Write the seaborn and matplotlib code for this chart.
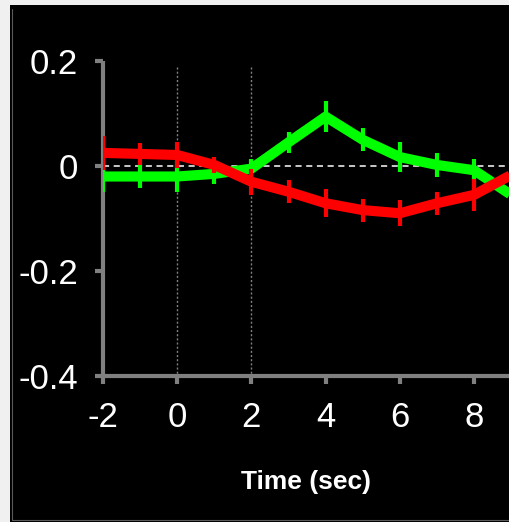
import matplotlib
matplotlib.use("Agg")
import matplotlib.pyplot as plt
from matplotlib.patches import Rectangle
from matplotlib.lines import Line2D
import seaborn as sns
import pandas as pd

time = [-2, -1, 0, 1, 2, 3, 4, 5, 6, 7, 8, 9]
green_vals = [-0.020, -0.020, -0.020, -0.015, -0.005, 0.045, 0.094, 0.050, 0.017, 0.002, -0.008, -0.055]
green_err = [0.029, 0.021, 0.029, 0.019, 0.019, 0.020, 0.030, 0.022, 0.029, 0.023, 0.021, 0.025]
red_vals = [0.025, 0.023, 0.021, 0.002, -0.030, -0.049, -0.071, -0.084, -0.090, -0.071, -0.055, -0.017]
red_err = [0.032, 0.021, 0.025, 0.015, 0.025, 0.022, 0.027, 0.022, 0.025, 0.022, 0.031, 0.030]
xticks = [-2, 0, 2, 4, 6, 8]
yticks = [0.2, 0, -0.2, -0.4]
yticklabels = ["0.2", "0", "-0.2", "-0.4"]
vline_x = [0, 2]

sns.set_style("dark")
plt.rcParams['font.family'] = ['Liberation Sans Narrow', 'Liberation Sans', 'DejaVu Sans']

W, H = 510, 522
fig = plt.figure(figsize=(W / 100, H / 100), dpi=100, facecolor='#f0f0f0')
# black panel
fig.patches.append(Rectangle((10 / W, 0), 1 - 10 / W, 1 - 5 / H, transform=fig.transFigure,
                             facecolor='black', edgecolor='none', zorder=-2))
fig.lines.append(Line2D([12.5 / W, 12.5 / W], [1 - 519.5 / H, 1 - 9 / H], transform=fig.transFigure,
                        color='#5a5a5a', lw=0.8, zorder=-1))
fig.lines.append(Line2D([12.5 / W, 1], [1 - 519.5 / H, 1 - 519.5 / H], transform=fig.transFigure,
                        color='#5a5a5a', lw=0.8, zorder=-1))

left, right, top, bottom = 103, 510, 61, 376
ax = fig.add_axes([left / W, 1 - bottom / H, (right - left) / W, (bottom - top) / H])
ax.set_facecolor('none')

df = pd.DataFrame({
    'time': time * 2,
    'value': green_vals + red_vals,
    'cond': ['green'] * len(time) + ['red'] * len(time),
})
sns.lineplot(data=df, x='time', y='value', hue='cond',
             palette={'green': '#00ff00', 'red': '#ff0000'},
             lw=7.3, ax=ax, legend=False, errorbar=None, sort=False)
for ln, z in zip(ax.lines, [3, 5]):
    ln.set_solid_capstyle('butt')
    ln.set_zorder(z)
ax.errorbar(time, green_vals, yerr=green_err, fmt='none', ecolor='#00ff00', elinewidth=3, capsize=0, zorder=4)
ax.errorbar(time, red_vals, yerr=red_err, fmt='none', ecolor='#ff0000', elinewidth=3, capsize=0, zorder=6)

ax.axhline(0, color='white', lw=1.1, ls=(0, (4, 3)), zorder=2)
for xv in vline_x:
    ax.plot([xv, xv], [0.189, -0.4], color='#808080', lw=1.0, ls=(0, (1.5, 1.5)), zorder=1)

ax.set_xlim(-2, -2 + (right - left) / 37.1)
ax.set_ylim(-0.4, 0.2)
ax.set_xticks(xticks)
ax.set_xticklabels([str(v) for v in xticks])
ax.set_yticks(yticks)
ax.set_yticklabels(yticklabels)
ax.grid(False)
for s in ['top', 'right']:
    ax.spines[s].set_visible(False)
for s in ['left', 'bottom']:
    ax.spines[s].set_color('#808080')
    ax.spines[s].set_linewidth(3)
    ax.spines[s].set_visible(True)
    ax.spines[s].set_capstyle('butt')
ax.tick_params(axis='both', colors='#808080', direction='out', length=6, width=3,
               labelcolor='white', labelsize=25, bottom=True, left=True)
ax.tick_params(axis='x', pad=12)
ax.tick_params(axis='y', pad=12)
ax.set_ylabel('')
ax.set_xlabel('Time (sec)', color='white', fontsize=19, fontweight='bold', va='center')
ax.xaxis.set_label_coords(0.5, -(482 - bottom) / (bottom - top))

fig.savefig('out.png', dpi=100, facecolor=fig.get_facecolor())
